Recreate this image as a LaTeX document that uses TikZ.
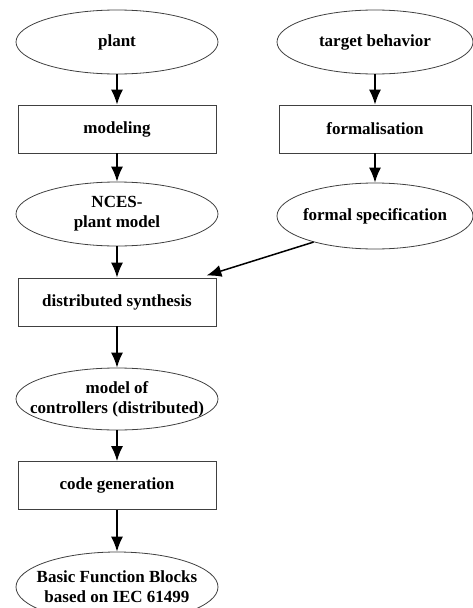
\documentclass[tikz,border=0pt]{standalone}
\usepackage{fontspec}
\setmainfont{Liberation Serif}
\usetikzlibrary{arrows.meta, positioning, shapes.geometric}

\begin{document}
\begin{tikzpicture}[x=1pt, y=-1pt,
    artefact/.style={ellipse, draw=black!75, line width=0.8pt, minimum width=202pt, minimum height=64pt, inner xsep=-25pt, inner ysep=0pt, align=center, font=\fontsize{17}{20}\selectfont\bfseries},
    activity/.style={rectangle, draw=black!75, line width=0.8pt, minimum width=198pt, minimum height=48pt, inner sep=0pt, align=center, font=\fontsize{17}{20}\selectfont\bfseries},
    flow/.style={-{Latex[length=15pt, width=12pt]}, line width=1.5pt, black},
]
  \useasboundingbox (0,0) rectangle (473,608);

  % left column: plant to function blocks
  \node[artefact] (plant) at (117, 42) {plant};
  \node[activity] (model) at (117, 129) {modeling};
  \node[artefact] (nces) at (117, 214) {NCES-\\plant model};
  \node[activity] (synth) at (117, 302) {distributed synthesis};
  \node[artefact, minimum height=62pt] (ctrl) at (117, 399) {model of\\controllers (distributed)};
  \node[activity] (codegen) at (117, 485.5) {code generation};
  \node[artefact, minimum height=70pt] (fb) at (117, 587) {Basic Function Blocks\\based on IEC 61499};

  % right column: specification
  \node[artefact, minimum width=196pt] (target) at (375, 42) {target behavior};
  \node[activity, minimum width=192pt] (formal) at (375, 129) {formalisation};
  \node[artefact, minimum width=196pt, minimum height=66pt] (spec) at (375, 216) {formal specification};

  \draw[flow] (plant) -- (model);
  \draw[flow] (model) -- (nces);
  \draw[flow] (nces) -- (synth);
  \draw[flow] (synth) -- (ctrl);
  \draw[flow] (ctrl) -- (codegen);
  \draw[flow] (codegen) -- (fb);
  \draw[flow] (target) -- (formal);
  \draw[flow] (formal) -- (spec);
  \draw[flow] (spec.203) -- ([xshift=-10pt, yshift=2pt]synth.north east);
\end{tikzpicture}
\end{document}
